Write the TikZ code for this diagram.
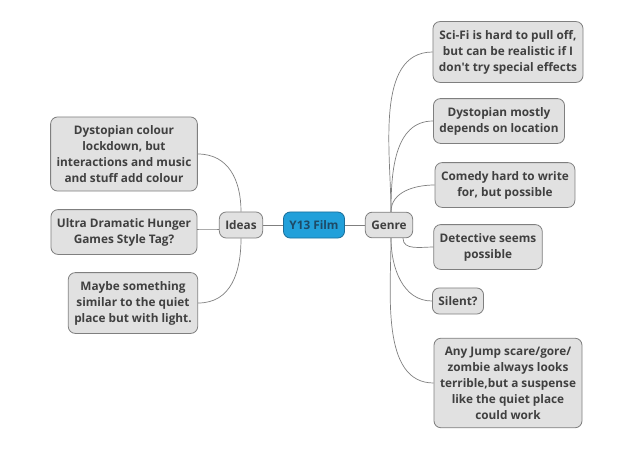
\documentclass[tikz,border=0pt]{standalone}
\usepackage{fontspec}
\setmainfont{Open Sans}
\definecolor{boxfill}{HTML}{E1E1E1}
\definecolor{boxline}{HTML}{7F7F7F}
\definecolor{boxtext}{HTML}{404040}
\definecolor{mainfill}{HTML}{22A0DA}
\definecolor{mainline}{HTML}{1A6E9A}
\definecolor{maintext}{HTML}{1D4A66}
\begin{document}
\begin{tikzpicture}[x=1pt,y=-1pt]

      \useasboundingbox (0,0) rectangle (638,451);

      \begin{scope}[every node/.style={draw=boxline,fill=boxfill,text=boxtext,rounded corners=7pt,
          align=center,inner xsep=6pt,inner ysep=8.5pt,line width=0.8pt,
          font=\fontsize{11.8}{16}\selectfont\bfseries}]
        \node[draw=mainline,fill=mainfill,text=maintext] (film) at (314,225) {Y13 Film};
        \node (ideas)  at (241,225) {Ideas};
        \node (genre)  at (389,225) {Genre};
        \node (colour) at (124,154) {Dystopian colour\\lockdown, but\\interactions and music\\and stuff add colour};
        \node (ultra)  at (124,232) {Ultra Dramatic Hunger\\Games Style Tag?};
        \node (maybe)  at (133,303) {Maybe something\\similar to the quiet\\place but with light.};
        \node (scifi)  at (508,52)  {Sci-Fi is hard to pull off,\\but can be realistic if I\\don\textquotesingle t try special effects};
        \node (location) at (499,121) {Dystopian mostly\\depends on location};
        \node (comedy) at (505,185) {Comedy hard to write\\for, but possible};
        \node (detective) at (488,247) {Detective seems\\possible};
        \node (silent) at (458,301) {Silent?};
        \node (jump)   at (508,383) {Any Jump scare/gore/\\zombie always looks\\terrible,but a suspense\\like the quiet place\\could work};
      \end{scope}

      \begin{scope}[every path/.style={draw=boxline,line width=0.7pt}]
        \path (film) -- (ideas);
        \path (film) -- (genre);

        \path (ideas.north) to[out=90,in=0,looseness=1.1] (colour.east);
        \path ([yshift=-4pt]ideas.west) to[out=180,in=0] ([yshift=3pt]ultra.east);
        \path (ideas.south) to[out=-90,in=0,looseness=1.1] (maybe.east);

        \path ([xshift=2pt]genre.north) to[out=90,in=180,looseness=0.9] (scifi.west);
        \path ([xshift=2pt]genre.north) to[out=90,in=180] (location.west);
        \path ([xshift=2pt]genre.north) to[out=90,in=180] (comedy.west);
        \path ([xshift=14pt]genre.south) to[out=-90,in=180] (detective.west);
        \path ([xshift=2pt]genre.south) to[out=-90,in=180] (silent.west);
        \path ([xshift=2pt]genre.south) to[out=-90,in=180,looseness=0.9] (jump.west);
      \end{scope}

    \end{tikzpicture}
\end{document}
